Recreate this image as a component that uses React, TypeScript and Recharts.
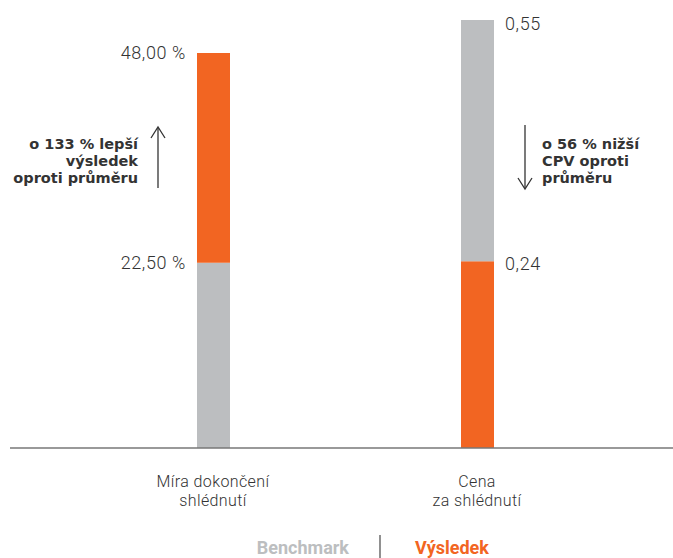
import { Bar, BarChart, XAxis, YAxis } from "recharts";

const ORANGE = "#f26522";
const GREY = "#bcbec0";
const TEXT = "#333333";
const FONT = "Roboto, 'Liberation Sans', sans-serif";
const NOTE_FONT = "'DejaVu Sans', Roboto, sans-serif";

const categories = ["Míra dokončení\nshlédnutí", "Cena\nza shlédnutí"];
const seriesNames = ["Benchmark", "Výsledek"];
const benchmark = [22.5, 0.55];
const result = [48, 0.24];
const units = [" %", ""];
const notes = [
  ["o 133 % lepší", "výsledek", "oproti průměru"],
  ["o 56 % nižší", "CPV oproti", "průměru"],
];

// each bar has its own scale, so the two bars sit on two hidden y axes
const data = categories.map((name, i) => ({
  name,
  rateBench: i === 0 ? benchmark[0] : 0,
  rateResult: i === 0 ? result[0] - benchmark[0] : 0,
  costResult: i === 1 ? result[1] : 0,
  costBench: i === 1 ? benchmark[1] - result[1] : 0,
}));

const fmt = (v: number, i: number) => v.toFixed(2).replace(".", ",") + units[i];

function valueLabel(value: number, i: number, side: "left" | "right", dy: number) {
  return (props: any) => {
    const { x, y, width, height } = props;
    if (!height) return null;
    const tx = side === "left" ? x - 11 : x + width + 11;
    return (
      <text
        x={tx}
        y={y + dy}
        textAnchor={side === "left" ? "end" : "start"}
        fill={TEXT}
        fontFamily={FONT}
        fontWeight={300}
        fontSize={18}
        letterSpacing={0.6}
      >
        {fmt(value, i)}
      </text>
    );
  };
}

const CategoryTick = ({ x, y, payload }: any) => {
  const lines = String(payload.value).split("\n");
  return (
    <text x={x} y={y} textAnchor="middle" fill={TEXT} fontFamily={FONT} fontWeight={300} fontSize={16} letterSpacing={0.4}>
      {lines.map((l, k) => (
        <tspan key={k} x={x} dy={k === 0 ? 39 : 19}>
          {l}
        </tspan>
      ))}
    </text>
  );
};

function Notes() {
  const noteStyle = { fontFamily: NOTE_FONT, fontWeight: 700, fontSize: 14.5, fill: TEXT };
  return (
    <svg width={673} height={558} style={{ position: "absolute", left: 0, top: 0, pointerEvents: "none" }}>
      <text textAnchor="end" {...noteStyle}>
        {notes[0].map((l, k) => (
          <tspan key={k} x={138} y={149 + k * 17}>
            {l}
          </tspan>
        ))}
      </text>
      <g stroke={TEXT} strokeWidth={1.3} fill="none">
        <line x1={158} y1={128} x2={158} y2={188} />
        <polyline points="151,138 158,127 165,138" />
        <line x1={525} y1={125} x2={525} y2={188} />
        <polyline points="518,178 525,189 532,178" />
      </g>
      <text textAnchor="start" {...noteStyle}>
        {notes[1].map((l, k) => (
          <tspan key={k} x={542} y={149 + k * 17}>
            {l}
          </tspan>
        ))}
      </text>

      <text x={349} y={554} textAnchor="end" fontFamily={FONT} fontWeight={700} fontSize={18} fill={GREY}>
        {seriesNames[0]}
      </text>
      <line x1={380} y1={535} x2={380} y2={558} stroke="#555" strokeWidth={1.3} />
      <text x={415} y={554} textAnchor="start" fontFamily={FONT} fontWeight={700} fontSize={18} fill={ORANGE}>
        {seriesNames[1]}
      </text>
    </svg>
  );
}

export default function App() {
  return (
    <div style={{ position: "absolute", left: 0, top: 0, width: 673, height: 558, background: "#fff" }}>
      <BarChart
        width={673}
        height={558}
        data={data}
        margin={{ top: 20, right: 0, bottom: 40, left: 10 }}
        barSize={33}
      >
        <XAxis
          dataKey="name"
          height={70}
          padding={{ left: 71, right: 64 }}
          tickLine={false}
          tickSize={0}
          tickMargin={0}
          axisLine={{ stroke: "#777", strokeWidth: 1.5 }}
          tick={<CategoryTick />}
          interval={0}
        />
        <YAxis yAxisId="rate" hide domain={[0, 52]} allowDataOverflow />
        <YAxis yAxisId="cost" hide domain={[0, 0.55]} allowDataOverflow orientation="right" />
        <Bar
          yAxisId="rate"
          dataKey="rateBench"
          stackId="s"
          fill={GREY}
          isAnimationActive={false}
          label={valueLabel(benchmark[0], 0, "left", 6)}
        />
        <Bar
          yAxisId="rate"
          dataKey="rateResult"
          stackId="s"
          fill={ORANGE}
          isAnimationActive={false}
          label={valueLabel(result[0], 0, "left", 6)}
        />
        <Bar
          yAxisId="cost"
          dataKey="costResult"
          stackId="s"
          fill={ORANGE}
          isAnimationActive={false}
          label={valueLabel(result[1], 1, "right", 9)}
        />
        <Bar
          yAxisId="cost"
          dataKey="costBench"
          stackId="s"
          fill={GREY}
          isAnimationActive={false}
          label={valueLabel(benchmark[1], 1, "right", 10)}
        />
      </BarChart>
      <Notes />
    </div>
  );
}
